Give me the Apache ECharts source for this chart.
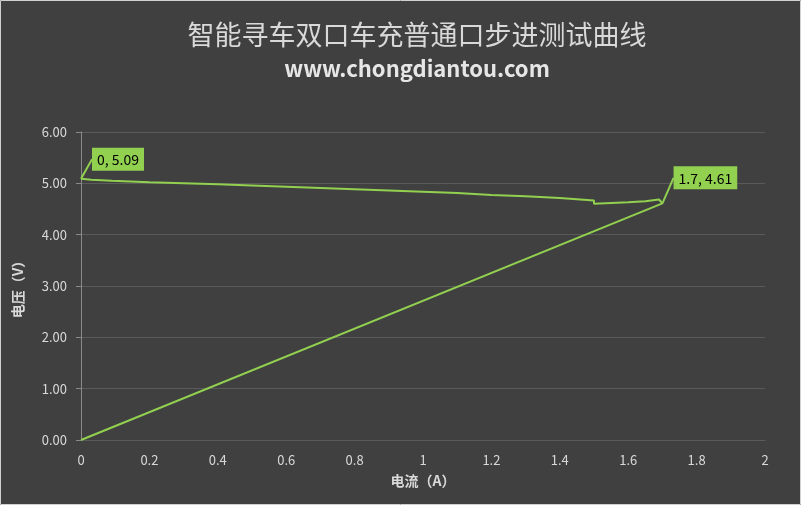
<!DOCTYPE html>
<html>
<head>
<meta charset="utf-8">
<script src="https://cdn.jsdelivr.net/npm/echarts@6/dist/echarts.min.js"></script>
<style>
html,body{margin:0;padding:0;background:#404040;}
#c{width:801px;height:505px;}
</style>
</head>
<body>
<div id="c"></div>
<script>
// Current (A)
var currents = [0, 0.03, 0.09, 0.2, 0.3, 0.4, 0.5, 0.58, 0.7, 0.8, 0.9, 1.0, 1.1, 1.1, 1.2, 1.3, 1.3, 1.4, 1.4, 1.5, 1.5, 1.55, 1.6, 1.65, 1.69, 1.7, 0];
// Voltage (V)
var voltages = [5.09, 5.07, 5.05, 5.02, 5.0, 4.98, 4.96, 4.94, 4.91, 4.885, 4.86, 4.835, 4.81, 4.80, 4.775, 4.75, 4.745, 4.715, 4.69, 4.665, 4.60, 4.615, 4.63, 4.65, 4.685, 4.61, 0];
var xTicks = [0, 0.2, 0.4, 0.6, 0.8, 1, 1.2, 1.4, 1.6, 1.8, 2];
var yTicks = [0, 1, 2, 3, 4, 5, 6];
var labelled = {0: [37, -3], 25: [43, -9]};

var green = '#92d050';
var txt = '#d9d9d9';
var font = 'Noto Sans CJK SC';

var data = currents.map(function (x, i) {
  var item = {value: [x, voltages[i]]};
  if (labelled[i]) {
    item.label = {
      show: true,
      position: 'top',
      formatter: function (p) { return p.value[0] + ', ' + p.value[1].toFixed(2); },
      backgroundColor: green,
      color: '#000',
      fontSize: 14,
      fontFamily: font,
      padding: [5, 5, 4, 5]
    };
  }
  return item;
});

var chart = echarts.init(document.getElementById('c'), null, {renderer: 'canvas'});
chart.setOption({
  backgroundColor: '#404040',
  animation: false,
  title: [{
    text: '智能寻车双口车充普通口步进测试曲线',
    left: 412, top: 16, textAlign: 'center',
    textStyle: {color: txt, fontSize: 27, fontWeight: 'normal', fontFamily: font}
  }, {
    text: 'www.chongdiantou.com',
    left: 412, top: 53, textAlign: 'center',
    textStyle: {color: '#e6e6e6', fontSize: 22, fontWeight: 'bold', fontFamily: font}
  }],
  graphic: [{
    type: 'rect', silent: true,
    shape: {x: 0.5, y: 0.5, width: 800, height: 504},
    style: {fill: 'none', stroke: '#d0d0d0', lineWidth: 1}
  }],
  grid: {left: 81, right: 36, top: 132, bottom: 65, containLabel: false},
  xAxis: {
    type: 'value', min: 0, max: 2, interval: 0.2,
    name: '电流（A）', nameLocation: 'middle', nameGap: 34,
    nameTextStyle: {color: txt, fontSize: 14, fontWeight: 'bold', fontFamily: font},
    axisLine: {show: true, lineStyle: {color: '#5a5a5a'}},
    axisTick: {show: false},
    splitLine: {show: false},
    axisLabel: {
      color: txt, fontSize: 13, fontFamily: font, margin: 14,
      formatter: function (v) { var t = xTicks.find(function (k) { return Math.abs(k - v) < 1e-9; }); return t === undefined ? '' : String(t); }
    }
  },
  yAxis: {
    type: 'value', min: 0, max: 6, interval: 1,
    name: '电压（V）', nameLocation: 'middle', nameGap: 56, nameRotate: 90,
    nameTextStyle: {color: txt, fontSize: 14, fontWeight: 'bold', fontFamily: font},
    axisLine: {show: true, lineStyle: {color: '#8a8a8a'}},
    axisTick: {show: true, length: 5, lineStyle: {color: '#8a8a8a'}},
    splitLine: {show: true, lineStyle: {color: '#5a5a5a'}},
    axisLabel: {
      color: txt, fontSize: 13, fontFamily: font, margin: 14,
      formatter: function (v) { return yTicks.indexOf(v) >= 0 ? v.toFixed(2) : ''; }
    }
  },
  series: [{
    type: 'line',
    data: data,
    symbol: 'circle',
    symbolSize: 0,
    showSymbol: true,
    lineStyle: {color: green, width: 2},
    itemStyle: {color: green},
    labelLine: {show: true, lineStyle: {color: green, width: 2}},
    labelLayout: function (p) {
      var o = labelled[p.dataIndex];
      return o ? {dx: o[0], dy: o[1]} : {};
    },
    z: 3
  }]
});
</script>
</body>
</html>
